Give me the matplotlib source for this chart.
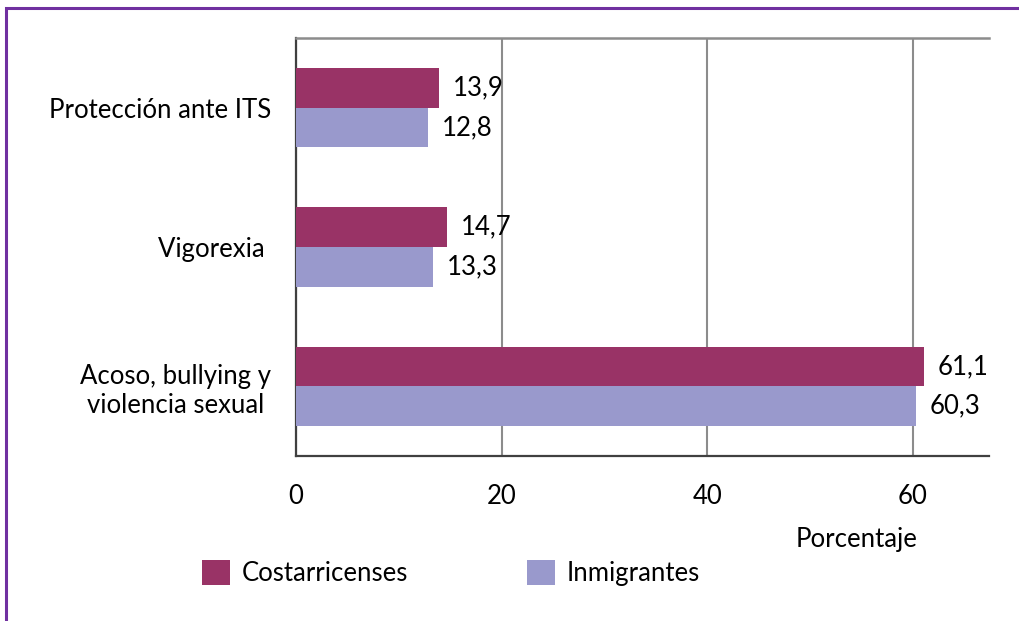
import matplotlib
matplotlib.use("Agg")
import matplotlib.pyplot as plt
from matplotlib.patches import Rectangle
import numpy as np

categories = ["Protección ante ITS", "Vigorexia ", "Acoso, bullying y\nviolencia sexual"]
costarricenses = [13.9, 14.7, 61.1]
inmigrantes = [12.8, 13.3, 60.3]
series_names = ["Costarricenses", "Inmigrantes"]
colors = ["#993366", "#9999CC"]
xticks = [0, 20, 40, 60]

plt.rcParams["font.family"] = ["Lato", "DejaVu Sans"]
FS = 18.5

fig = plt.figure(figsize=(10.2, 6.21), dpi=100)
ax = fig.add_axes([296 / 1020, 1 - 456 / 621, (989 - 296) / 1020, (456 - 38) / 621])

y = np.arange(len(categories))
h = 0.2857
b1 = ax.barh(y - h / 2, costarricenses, height=h, color=colors[0], label=series_names[0], zorder=3)
b2 = ax.barh(y + h / 2, inmigrantes, height=h, color=colors[1], label=series_names[1], zorder=3)

def fmt(v):
    return f"{v:.1f}".replace(".", ",")

for bars, vals in ((b1, costarricenses), (b2, inmigrantes)):
    for bar, v in zip(bars, vals):
        ax.annotate(fmt(v), (v, bar.get_y() + bar.get_height() / 2),
                    xytext=(10, 0), textcoords="offset points",
                    ha="left", va="center", fontsize=FS, color="black")

ax.set_ylim(2.5, -0.5)
ax.set_xlim(0, 67.4)
ax.set_xticks(xticks)
ax.set_xticklabels([str(t) for t in xticks], fontsize=FS)
ax.set_yticks(y)
ax.set_yticklabels(categories, fontsize=FS, multialignment="center")
ax.tick_params(axis="both", length=0)
ax.tick_params(axis="x", pad=20)
ax.tick_params(axis="y", pad=18)

ax.grid(axis="x", color="#8c8c8c", linewidth=1.5, zorder=0)
ax.set_axisbelow(True)
for s in ("left", "bottom"):
    ax.spines[s].set_color("#404040")
    ax.spines[s].set_linewidth(1.6)
ax.spines["top"].set_color("#8c8c8c")
ax.spines["top"].set_linewidth(1.8)
ax.spines["right"].set_visible(False)

fig.text(857 / 1020, 1 - 540 / 621, "Porcentaje", ha="center", va="center", fontsize=FS)

fig.legend(handles=[b1, b2], labels=series_names, loc="center left",
           bbox_to_anchor=(179 / 1020, 1 - 573 / 621), ncol=2, frameon=False,
           fontsize=FS, handlelength=1.1, handleheight=1.1, handletextpad=0.45,
           columnspacing=4.6)

# purple frame around the figure
fig.patches.append(Rectangle((6 / 1020, -0.1), 1.2, 1 - 8 / 621 + 0.1,
                             transform=fig.transFigure, fill=False,
                             edgecolor="#7030A0", linewidth=2.2, zorder=10))

fig.savefig("out.png", dpi=100)
